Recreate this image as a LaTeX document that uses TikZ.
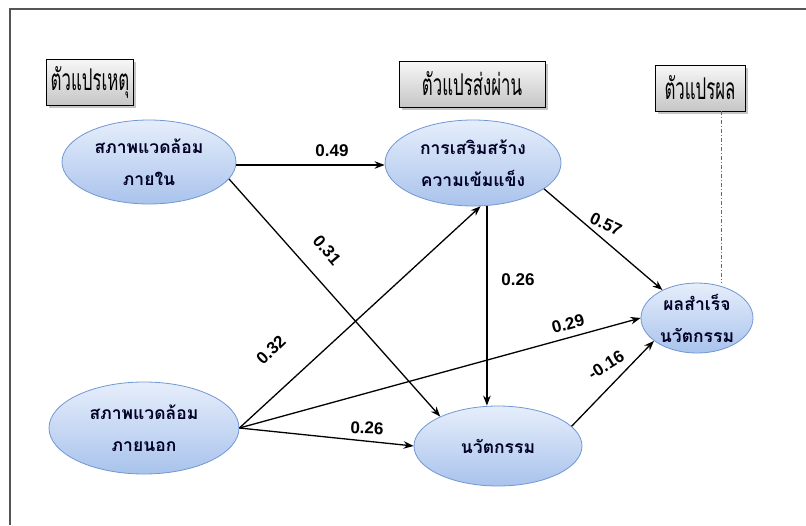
\documentclass[tikz,border=0pt]{standalone}
\usepackage{fontspec}
\setmainfont{Liberation Sans}
\newfontfamily\thaifont[Script=Thai]{Loma}
\newfontfamily\thaihead[Script=Thai,FakeStretch=0.56]{Loma}
\usetikzlibrary{shapes.geometric,shadows,arrows.meta}
\definecolor{ellTop}{HTML}{E6EEFB}
\definecolor{ellBot}{HTML}{A9C3EC}
\definecolor{ellLine}{HTML}{7197D4}
\definecolor{frameGray}{HTML}{555555}
\definecolor{dashBlue}{HTML}{3F6FC4}
\tikzset{
  ell/.style={ellipse, draw=ellLine, line width=0.8pt, top color=ellTop, bottom color=ellBot,
    align=center, inner sep=0pt, text=black!85!blue,
    font=\thaifont\bfseries\fontsize{17.5}{32}\selectfont},
  headbox/.style={rectangle, draw=black, line width=0.9pt, top color=gray!6, bottom color=gray!45,
    drop shadow={opacity=0.45, shadow xshift=2.5pt, shadow yshift=-2.5pt},
    font=\thaihead\fontsize{30}{32}\selectfont, minimum height=46pt, inner xsep=4pt},
  arr/.style={-{Stealth[length=10pt,width=7.5pt]}, line width=1.3pt, black},
  lbl/.style={font=\bfseries\fontsize{17}{20}\selectfont, inner sep=1pt}
}
\begin{document}
\begin{tikzpicture}[x=1pt,y=-1pt]
\useasboundingbox (0,0) rectangle (806,525);
\fill[white] (0,0) rectangle (806,525);
\draw[frameGray, line width=1.2pt] (10,525) -- (10,9) -- (806,9);

% header boxes
\node[headbox, minimum width=76pt] (h1) at (90,82) {ตัวแปรเหตุ};
\node[headbox, minimum width=146pt] (h2) at (472,84) {ตัวแปรส่งผ่าน};
\node[headbox, minimum width=90pt] (h3) at (700,88) {ตัวแปรผล};

% ellipses
\node[ell, minimum width=174pt, minimum height=84pt] (ina) at (149,162) {สภาพแวดล้อม\\ภายใน};
\node[ell, minimum width=176pt, minimum height=86pt] (med) at (473,163) {การเสริมสร้าง\\ความเข้มแข็ง};
\node[ell, minimum width=112pt, minimum height=70pt] (out) at (697,318) {ผลสำเร็จ\\นวัตกรรม};
\node[ell, minimum width=190pt, minimum height=92pt] (ext) at (144,428) {สภาพแวดล้อม\\ภายนอก};
\node[ell, minimum width=168pt, minimum height=80pt] (inn) at (498,446) {นวัตกรรม};

% dash-dot guide
\coordinate (g) at (721,300);
\draw[dashBlue, line width=0.8pt, dash pattern=on 4pt off 2pt on 1pt off 2pt] (h3.south -| g) -- (g |- out.north);

% connectors
\draw[arr] (ina.east |- 0,165) -- (med.west |- 0,165);
\draw[arr] (ina.-12) -- (inn.153);
\draw[arr] (ext.east) -- (med.-80);
\draw[arr] (ext.east) -- (out.west);
\draw[arr] (ext.east) -- (inn.west);
\draw[arr] (med.-72) -- (med.-72 |- inn.north);
\draw[arr] (med.-20) -- (out.141);
\draw[arr] (inn.15) -- (out.208);

% coefficient labels
\node[lbl] (c1) at (332,151) {0.49};
\node[lbl, rotate=-50] (c2) at (327,250) {0.31};
\node[lbl, rotate=44] (c3) at (271,350) {0.32};
\node[lbl, rotate=15] (c4) at (568,324) {0.29};
\node[lbl, rotate=-2] (c5) at (367,428) {0.26};
\node[lbl] (c6) at (518,280) {0.26};
\node[lbl, rotate=-25] (c7) at (606,224) {0.57};
\node[lbl, rotate=32] (c8) at (606,365) {-0.16};
\end{tikzpicture}
\end{document}
